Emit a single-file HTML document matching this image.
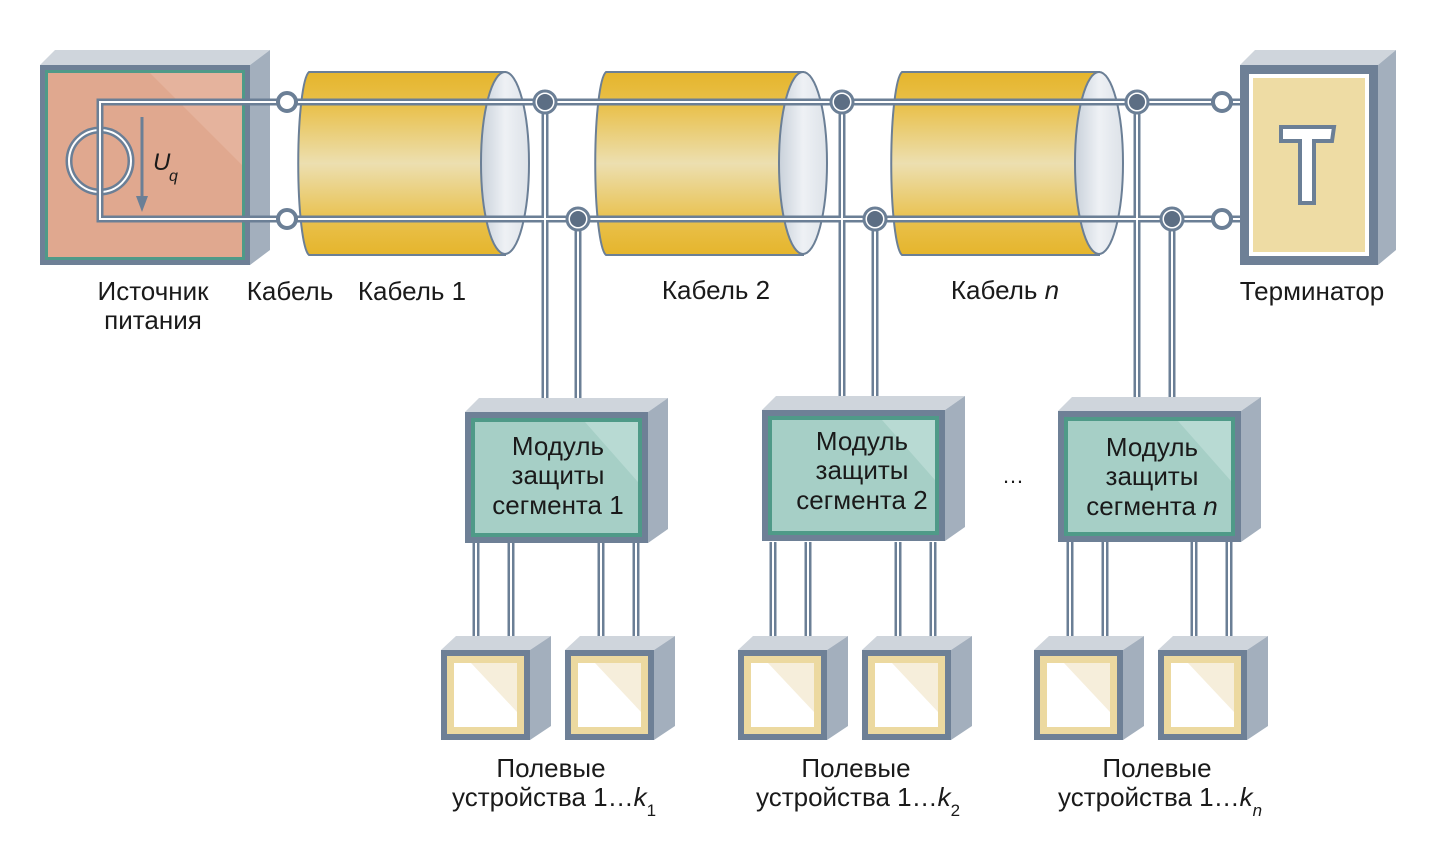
<!DOCTYPE html>
<html><head><meta charset="utf-8"><style>
html,body{margin:0;padding:0;background:#fff;}
svg{display:block}
text{font-family:"Liberation Sans Narrow","Liberation Sans",sans-serif;fill:#1a1a1a}
</style></head><body>
<svg width="1451" height="856" viewBox="0 0 1451 856" xmlns="http://www.w3.org/2000/svg">
<defs>
<linearGradient id="cab" x1="0" y1="0" x2="0" y2="1">
<stop offset="0" stop-color="#e5b52c"/><stop offset="0.18" stop-color="#e9c04a"/><stop offset="0.5" stop-color="#ecdfb0"/><stop offset="0.82" stop-color="#e9c04a"/><stop offset="1" stop-color="#e5b52c"/>
</linearGradient>
<linearGradient id="end" x1="0" y1="0" x2="1" y2="0">
<stop offset="0" stop-color="#c9d1da"/><stop offset="0.5" stop-color="#eef1f5"/><stop offset="1" stop-color="#dde2e8"/>
</linearGradient>
<g id="module">
<polygon points="0,0 14,-14 203,-14 183,0" fill="#cfd5dc"/>
<polygon points="183,0 203,-14 203,117 183,131" fill="#a3afbd"/>
<rect x="0" y="0" width="183" height="131" fill="#6e8096"/>
<rect x="6" y="6" width="171" height="119" fill="#4f9a88"/>
<rect x="10" y="10" width="163" height="111" fill="#a6cfc6"/>
<polygon points="120,10 173,10 173,70" fill="#b8dad3"/>
</g>
<g id="dev">
<polygon points="0,0 15,-14 110,-14 89,0" fill="#cfd5dc"/>
<polygon points="89,0 110,-14 110,76 89,90" fill="#a3afbd"/>
<rect x="0" y="0" width="89" height="90" fill="#6e8096"/>
<rect x="6" y="6" width="77" height="78" fill="#ecd9a0"/>
<rect x="13" y="13" width="63" height="64" fill="#fff"/>
<polygon points="30,13 76,13 76,62" fill="#f6eedb"/>
</g>
</defs>

<!-- power source -->
<polygon points="40,65 55,50 270,50 250,65" fill="#cfd5dc"/>
<polygon points="250,65 270,50 270,250 250,265" fill="#a3afbd"/>
<rect x="40" y="65" width="210" height="200" fill="#6e8096"/>
<rect x="45" y="70" width="200" height="190" fill="#4f9a88"/>
<rect x="48" y="73" width="194" height="184" fill="#e0a88f"/>
<polygon points="150,73 242,73 242,165" fill="#e5b39d"/>
<circle cx="100" cy="161" r="31" fill="none" stroke="#6b7f96" stroke-width="7"/>
<circle cx="100" cy="161" r="31" fill="none" stroke="#fff" stroke-width="2"/>
<line x1="142" y1="117" x2="142" y2="200" stroke="#6b7f96" stroke-width="3"/>
<polygon points="136,196 148,196 142,212" fill="#6b7f96"/>
<text x="153" y="170" font-size="24" font-style="italic">U</text>
<text x="169" y="181" font-size="16" font-style="italic">q</text>

<!-- cables -->
<g>
<path d="M309,72 H505 V255 H309 A12,92 0 0 1 309,72 Z" fill="url(#cab)" stroke="#6b7f96" stroke-width="2"/>
<ellipse cx="505" cy="163" rx="24" ry="91" fill="url(#end)" stroke="#6b7f96" stroke-width="2"/>
<path d="M606,72 H803 V255 H606 A12,92 0 0 1 606,72 Z" fill="url(#cab)" stroke="#6b7f96" stroke-width="2"/>
<ellipse cx="803" cy="163" rx="24" ry="91" fill="url(#end)" stroke="#6b7f96" stroke-width="2"/>
<path d="M902,72 H1099 V255 H902 A12,92 0 0 1 902,72 Z" fill="url(#cab)" stroke="#6b7f96" stroke-width="2"/>
<ellipse cx="1099" cy="163" rx="24" ry="91" fill="url(#end)" stroke="#6b7f96" stroke-width="2"/>
</g>

<!-- wires -->
<g fill="none" stroke="#6b7f96" stroke-width="7">
<path d="M1240,102 H100 V219 H1240"/>
<path d="M545,102 V402 M578,219 V402 M842,102 V400 M875,219 V400 M1137,102 V402 M1172,219 V402"/>
<path d="M476,543 V640 M511,543 V640 M601,543 V640 M636,543 V640"/>
<path d="M773,542 V640 M808,542 V640 M898,542 V640 M933,542 V640"/>
<path d="M1070,542 V640 M1105,542 V640 M1194,542 V640 M1229,542 V640"/>
</g>
<g fill="none" stroke="#fff" stroke-width="2">
<path d="M1240,102 H100 V219 H1240"/>
<path d="M545,102 V402 M578,219 V402 M842,102 V400 M875,219 V400 M1137,102 V402 M1172,219 V402"/>
<path d="M476,543 V640 M511,543 V640 M601,543 V640 M636,543 V640"/>
<path d="M773,542 V640 M808,542 V640 M898,542 V640 M933,542 V640"/>
<path d="M1070,542 V640 M1105,542 V640 M1194,542 V640 M1229,542 V640"/>
</g>
<!-- junctions -->
<g stroke="#6b7f96" stroke-width="4" fill="#fff">
<circle cx="287" cy="102" r="9"/><circle cx="287" cy="219" r="9"/>
<circle cx="1222" cy="102" r="9"/><circle cx="1222" cy="219" r="9"/>
</g>
<g fill="#fff" stroke="#6b7f96" stroke-width="3">
<circle cx="545" cy="102" r="11"/><circle cx="578" cy="219" r="11"/>
<circle cx="842" cy="102" r="11"/><circle cx="875" cy="219" r="11"/>
<circle cx="1137" cy="102" r="11"/><circle cx="1172" cy="219" r="11"/>
</g>
<g fill="#5c6e84">
<circle cx="545" cy="102" r="8"/><circle cx="578" cy="219" r="8"/>
<circle cx="842" cy="102" r="8"/><circle cx="875" cy="219" r="8"/>
<circle cx="1137" cy="102" r="8"/><circle cx="1172" cy="219" r="8"/>
</g>

<!-- terminator -->
<polygon points="1240,65 1255,50 1396,50 1378,65" fill="#cfd5dc"/>
<polygon points="1378,65 1396,50 1396,250 1378,265" fill="#a3afbd"/>
<rect x="1240" y="65" width="138" height="200" fill="#6e8096"/>
<rect x="1249" y="74" width="120" height="182" fill="#fff"/>
<rect x="1253" y="78" width="112" height="174" fill="#eedca4"/>
<path d="M1281,127 H1334 L1332,141 H1314 V203 H1300 V141 H1281 Z" fill="#fff" stroke="#6b7f96" stroke-width="4"/>

<!-- modules -->
<use href="#module" x="465" y="412"/>
<use href="#module" x="762" y="410"/>
<use href="#module" x="1058" y="411"/>
<g font-size="26" text-anchor="middle">
<text x="558" y="455">Модуль</text><text x="558" y="484">защиты</text><text x="558" y="514">сегмента 1</text>
<text x="862" y="450">Модуль</text><text x="862" y="479">защиты</text><text x="862" y="509">сегмента 2</text>
<text x="1152" y="456">Модуль</text><text x="1152" y="485">защиты</text><text x="1152" y="515">сегмента <tspan font-style="italic">n</tspan></text>
</g>
<text x="1013" y="483" font-size="22" text-anchor="middle">…</text>

<!-- devices -->
<use href="#dev" x="441" y="650"/><use href="#dev" x="565" y="650"/>
<use href="#dev" x="738" y="650"/><use href="#dev" x="862" y="650"/>
<use href="#dev" x="1034" y="650"/><use href="#dev" x="1158" y="650"/>

<!-- labels -->
<g font-size="26" text-anchor="middle">
<text x="153" y="300">Источник</text><text x="153" y="329">питания</text>
<text x="290" y="300">Кабель</text>
<text x="412" y="300">Кабель 1</text>
<text x="716" y="299">Кабель 2</text>
<text x="1005" y="299">Кабель <tspan font-style="italic">n</tspan></text>
<text x="1312" y="300">Терминатор</text>
<text x="551" y="777">Полевые</text>
<text x="856" y="777">Полевые</text>
<text x="1157" y="777">Полевые</text>
</g>
<g font-size="26">
<text x="452" y="806">устройства 1…<tspan font-style="italic">k</tspan><tspan font-size="17" dy="10">1</tspan></text>
<text x="756" y="806">устройства 1…<tspan font-style="italic">k</tspan><tspan font-size="17" dy="10">2</tspan></text>
<text x="1058" y="806">устройства 1…<tspan font-style="italic">k</tspan><tspan font-size="17" dy="10" font-style="italic">n</tspan></text>
</g>
</svg>
</body></html>
